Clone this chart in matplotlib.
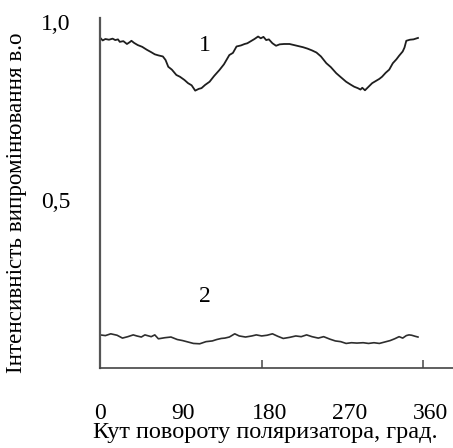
import matplotlib
matplotlib.use('Agg')
import matplotlib.pyplot as plt

# curve 1 (upper) : angle in degrees, intensity in rel. units
angle_1 = [0, 3, 6, 10, 14, 17, 20, 22, 26, 30, 33, 35, 38, 42, 47, 52, 57, 61, 65, 70,
           73, 76, 80, 85, 89, 94, 98, 102, 106, 110, 113, 117, 122, 127, 133, 138, 144,
           148, 152, 157, 161, 164, 168, 172, 176, 179, 182, 185, 188, 192, 196, 200,
           205, 211, 216, 221, 226, 231, 236, 241, 246, 252, 257, 263, 268, 274, 279,
           283, 287, 290, 292, 295, 299, 303, 307, 311, 314, 318, 322, 326, 330, 333,
           337, 339, 341, 345, 349, 354]
intensity_1 = [0.956, 0.948, 0.952, 0.950, 0.953, 0.949, 0.951, 0.944, 0.946, 0.938, 0.943,
               0.947, 0.941, 0.935, 0.930, 0.922, 0.915, 0.909, 0.906, 0.903, 0.893, 0.874,
               0.866, 0.851, 0.846, 0.837, 0.828, 0.822, 0.807, 0.812, 0.814, 0.823, 0.832,
               0.848, 0.865, 0.881, 0.907, 0.913, 0.931, 0.934, 0.938, 0.940, 0.946, 0.952,
               0.959, 0.954, 0.958, 0.949, 0.951, 0.940, 0.933, 0.937, 0.938, 0.938, 0.935,
               0.932, 0.929, 0.925, 0.920, 0.914, 0.903, 0.884, 0.873, 0.856, 0.845, 0.832,
               0.824, 0.818, 0.814, 0.810, 0.815, 0.808, 0.818, 0.828, 0.834, 0.840, 0.846,
               0.857, 0.866, 0.884, 0.895, 0.905, 0.917, 0.928, 0.947, 0.950, 0.951, 0.955]

# curve 2 (lower)
angle_2 = [0, 6, 12, 19, 25, 31, 37, 41, 46, 50, 57, 61, 65, 72, 79, 86, 92, 98, 104,
           111, 118, 125, 130, 135, 139, 144, 150, 155, 162, 169, 174, 180, 186, 192,
           198, 204, 211, 218, 224, 230, 236, 243, 249, 256, 262, 268, 274, 280, 286,
           293, 299, 305, 311, 317, 323, 328, 333, 337, 341, 344, 347, 351, 354]
intensity_2 = [0.121, 0.119, 0.124, 0.120, 0.112, 0.116, 0.121, 0.118, 0.115, 0.121,
               0.116, 0.121, 0.110, 0.113, 0.115, 0.108, 0.105, 0.101, 0.097, 0.096,
               0.102, 0.104, 0.108, 0.111, 0.112, 0.115, 0.124, 0.118, 0.115, 0.118,
               0.121, 0.118, 0.120, 0.124, 0.117, 0.111, 0.114, 0.118, 0.116, 0.121,
               0.116, 0.112, 0.116, 0.109, 0.104, 0.102, 0.097, 0.099, 0.098, 0.099,
               0.097, 0.099, 0.097, 0.101, 0.105, 0.110, 0.116, 0.112, 0.119, 0.121,
               0.120, 0.117, 0.115]

# labels in the scan sit a little off the real angle marks
x_tick_pos = [0, 92, 189, 278, 368.5]
x_tick_labels = ['0', '90', '180', '270', '360']
x_marks = [180, 360]
y_tick_pos = [0.5, 1.0]
y_tick_labels = ['0,5', '1,0']

plt.rcParams['font.family'] = ['Liberation Serif', 'DejaVu Serif']

fig = plt.figure(figsize=(4.53, 4.48), dpi=100)
ax = fig.add_axes([100 / 453, 80 / 448, 353 / 453, 350 / 448])

ax.plot(angle_1, intensity_1, color='#1e1e1e', lw=1.3)
ax.plot(angle_2, intensity_2, color='#2e2e2e', lw=1.2)

ax.set_xlim(0, 393)
ax.set_ylim(0.028, 1.011)

for s in ['top', 'right']:
    ax.spines[s].set_visible(False)
ax.spines['left'].set_color('#555555')
ax.spines['left'].set_linewidth(1.6)
ax.spines['bottom'].set_color('#444444')
ax.spines['bottom'].set_linewidth(1.2)

ax.set_xticks(x_tick_pos)
ax.set_xticklabels(x_tick_labels, fontsize=17)
ax.set_xticks(x_marks, minor=True)
ax.set_yticks(y_tick_pos)
ax.set_yticklabels(y_tick_labels, fontsize=17)
ax.set_yticks([0.5], minor=True)
ax.tick_params(which='major', length=0)
ax.tick_params(axis='x', which='major', pad=25)
ax.tick_params(axis='y', which='major', pad=21)
ax.tick_params(which='minor', direction='in', length=6, width=1.2, color='#555555')

# axis titles placed in figure pixels like the scan
fig.text(265 / 453, 1 - 438 / 448, 'Кут повороту поляризатора, град.',
         ha='center', va='baseline', fontsize=17.5)
fig.text(17 / 453, 1 - 203 / 448, 'Інтенсивність випромінювання в.о',
         rotation=90, ha='center', va='center', fontsize=16.6)

ax.text(117, 0.933, '1', fontsize=17, ha='center', va='center')
ax.text(117, 0.23, '2', fontsize=17, ha='center', va='center')

fig.savefig('out.png', dpi=100)
